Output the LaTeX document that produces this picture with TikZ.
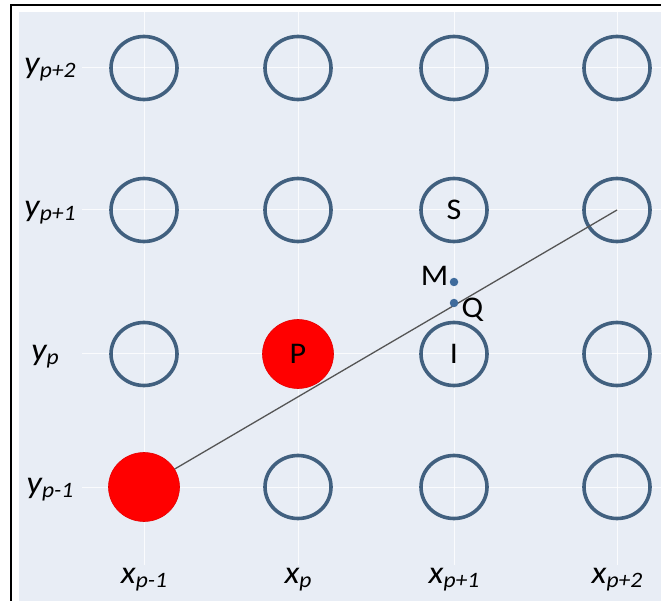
\documentclass[tikz,border=0pt]{standalone}
\usepackage{fontspec}
\setmainfont{Carlito}
\usepackage{tikz}
\usetikzlibrary{positioning, calc, shapes.geometric}

\definecolor{panelbg}{HTML}{E8EDF5}
\definecolor{ringblue}{HTML}{41607F}
\definecolor{dotblue}{HTML}{3F6B9C}
\definecolor{linegray}{HTML}{555555}

% axis label: italic letter with a lowered subscript
\newcommand{\gridlbl}[2]{\scalebox{1.07}[1]{\itshape\fontsize{32}{32}\selectfont #1\raisebox{-4pt}{\fontsize{22}{22}\selectfont #2}}}
\newcommand{\pixtext}[1]{\scalebox{1.07}[1]{\fontsize{30}{30}\selectfont #1}}

\begin{document}
\begin{tikzpicture}[
    x=1pt, y=-1pt,
    ring/.style={ellipse, draw=ringblue, line width=3.6pt, minimum width=66pt, minimum height=63pt, inner sep=0pt},
    redpix/.style={ellipse, fill=red, draw=red!90!black, line width=0.6pt, minimum width=71pt, minimum height=69pt, inner sep=0pt},
    gridline/.style={white, line width=1pt, opacity=0.8},
    pt/.style={circle, fill=dotblue, minimum size=8.5pt, inner sep=0pt},
    ptlabel/.style={inner sep=0pt},
    axislabel/.style={inner sep=0pt, anchor=center}
]
\useasboundingbox (0,0) rectangle (661,601);

% =========================================================
% FRAME AND PANEL
% =========================================================
\fill[panelbg] (19,12) rectangle (661,601);
\draw[black, line width=2pt] (11,601) -- (11,5) -- (661,5);

% faint grid through the pixel centres
\draw[gridline] (144,12) -- (144,565);
\draw[gridline] (298,12) -- (298,565);
\draw[gridline] (454,12) -- (454,565);
\draw[gridline] (617,12) -- (617,565);
\draw[gridline] (82,68) -- (661,68);
\draw[gridline] (82,210) -- (661,210);
\draw[gridline] (82,354) -- (661,354);
\draw[gridline] (82,487) -- (661,487);

% =========================================================
% PIXEL GRID
% =========================================================
% row y_{p+2}
\node[ring] (c14) at (144,68) {};
\node[ring] (c24) at (298,68) {};
\node[ring] (c34) at (454,68) {};
\node[ring] (c44) at (617,68) {};
% row y_{p+1}
\node[ring] (c13) at (144,210) {};
\node[ring] (c23) at (298,210) {};
\node[ring] (c33) at (454,210) {\pixtext{S}};
\node[ring] (c43) at (617,210) {};
% row y_p
\node[ring] (c12) at (144,354) {};
\node[ring] (c32) at (454,354) {\pixtext{I}};
\node[ring] (c42) at (617,354) {};
% row y_{p-1}
\node[ring] (c21) at (298,487) {};
\node[ring] (c31) at (454,487) {};
\node[ring] (c41) at (617,487) {};

% ideal line, drawn under the lit pixels
\draw[linegray, line width=1.3pt] (144,487) -- (c43.center);

% lit pixels
\node[redpix] (start) at (144,487) {};
\node[redpix] (ptP) at (298,354) {\pixtext{P}};

% midpoint M and intersection Q
\node[pt] (mid) at ($(c33)!0.5!(c32)$) {};
\node[ptlabel, left=1pt of mid, yshift=6pt] (lblM) {\pixtext{M}};
\node[pt] (isect) at (454,303) {};
\node[ptlabel, right=3pt of isect, yshift=-7pt] (lblQ) {\pixtext{Q}};

% =========================================================
% AXIS LABELS
% =========================================================
\node[axislabel] (ypp2) at (50,70) {\gridlbl{y}{p+2}};
\node[axislabel] (ypp1) at (50,213) {\gridlbl{y}{p+1}};
\node[axislabel] (yp) at (45,357) {\gridlbl{y}{p}};
\node[axislabel] (ypm1) at (50,490) {\gridlbl{y}{p-1}};

\node[axislabel] (xpm1) at (144,580) {\gridlbl{x}{p-1}};
\node[axislabel] (xp) at (298,580) {\gridlbl{x}{p}};
\node[axislabel] (xpp1) at (454,580) {\gridlbl{x}{p+1}};
\node[axislabel] (xpp2) at (617,580) {\gridlbl{x}{p+2}};

\end{tikzpicture}
\end{document}
